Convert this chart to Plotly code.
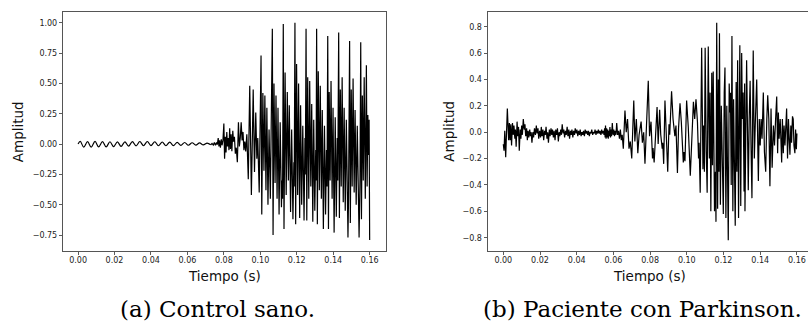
import plotly.graph_objects as go

# ---------------- data: (a) Control sano ----------------
t_a = [0.0000, 0.0012, 0.0031, 0.0052, 0.0072, 0.0093, 0.0113, 0.0134, 0.0154, 0.0175,
       0.0195, 0.0216, 0.0236, 0.0257, 0.0277, 0.0298, 0.0318, 0.0339, 0.0359, 0.0380,
       0.0400, 0.0421, 0.0441, 0.0462, 0.0482, 0.0503, 0.0523, 0.0544, 0.0564, 0.0585,
       0.0605, 0.0626, 0.0646, 0.0667, 0.0687, 0.0708, 0.0728,
       0.0735, 0.0742, 0.0748, 0.0754, 0.0760, 0.0764, 0.0769, 0.0773, 0.0777, 0.0781,
       0.0786, 0.0790, 0.0795, 0.0800, 0.0804, 0.0808, 0.0812, 0.0816, 0.0820, 0.0824,
       0.0828, 0.0832, 0.0836, 0.0840, 0.0844, 0.0849, 0.0853, 0.0858, 0.0863, 0.0868,
       0.0874, 0.0880, 0.0885, 0.0890, 0.0895, 0.0900, 0.0905, 0.0910, 0.0915, 0.0920,
       0.0926,
       0.0934, 0.0942, 0.0951, 0.0961, 0.0968, 0.0975, 0.0981, 0.0986, 0.0994, 0.1004,
       0.1008, 0.1014, 0.1020, 0.1025, 0.1031, 0.1036, 0.1042, 0.1048, 0.1055, 0.1066,
       0.1070, 0.1075, 0.1081, 0.1086, 0.1092, 0.1097, 0.1103, 0.1109, 0.1116, 0.1119, 0.1122, 0.1126,
       0.1130, 0.1136, 0.1142, 0.1148, 0.1154, 0.1159, 0.1166, 0.1172, 0.1179, 0.1184, 0.1186, 0.1190,
       0.1194, 0.1199, 0.1205, 0.1210, 0.1216, 0.1221, 0.1227, 0.1233, 0.1240, 0.1245, 0.1247, 0.1251,
       0.1255, 0.1260, 0.1266, 0.1271, 0.1277, 0.1282, 0.1288, 0.1293, 0.1299, 0.1304, 0.1306, 0.1309,
       0.1313, 0.1318, 0.1324, 0.1329, 0.1335, 0.1340, 0.1346, 0.1352, 0.1358, 0.1363, 0.1366, 0.1370,
       0.1374, 0.1378, 0.1383, 0.1388, 0.1394, 0.1399, 0.1405, 0.1411, 0.1417, 0.1422, 0.1425, 0.1430,
       0.1434, 0.1439, 0.1444, 0.1449, 0.1455, 0.1460, 0.1466, 0.1472, 0.1481, 0.1484, 0.1490,
       0.1494, 0.1499, 0.1504, 0.1509, 0.1515, 0.1520, 0.1526, 0.1532, 0.1542, 0.1547, 0.1551,
       0.1555, 0.1560, 0.1565, 0.1570, 0.1576, 0.1582, 0.1586, 0.1590, 0.1594, 0.1597, 0.1600]
amp_a = [0.000, 0.022, -0.025, 0.020, -0.026, 0.022, -0.024, 0.020, -0.024, 0.019,
         -0.021, 0.018, -0.019, 0.018, -0.017, 0.020, -0.015, 0.021, -0.014, 0.021,
         -0.013, 0.019, -0.014, 0.017, -0.014, 0.016, -0.013, 0.014, -0.011, 0.013,
         -0.010, 0.011, -0.009, 0.009, -0.007, 0.008, -0.006,
         0.006, -0.008, 0.012, -0.010, 0.014, -0.005, 0.050, -0.020, 0.030, -0.030,
         0.040, -0.010, 0.030, 0.170, -0.120, 0.060, -0.070, 0.100, -0.020, 0.050,
         -0.050, 0.130, -0.040, 0.080, -0.060, 0.110, 0.020, 0.060, -0.080, -0.030,
         -0.150, 0.180, -0.020, 0.050, 0.180, 0.030, 0.100, -0.050, 0.020, -0.060,
         0.080,
         -0.290, 0.480, -0.420, 0.450, -0.230, 0.260, -0.120, 0.050, -0.400, 0.730,
         -0.580, 0.420, -0.220, 0.400, -0.380, 0.300, -0.500, 0.120, -0.450, 0.950,
         -0.750, 0.500, -0.320, 0.400, -0.450, 0.300, -0.580, 0.180, -0.520, -0.300, -0.450, 0.990,
         -0.700, 0.590, -0.420, 0.430, -0.300, 0.320, -0.560, 0.120, -0.620, -0.150, -0.350, 1.000,
         -0.660, 0.660, -0.420, 0.500, -0.610, 0.320, -0.500, 0.150, -0.630, 0.050, -0.250, 0.950,
         -0.630, 0.550, -0.450, 0.520, -0.350, 0.330, -0.640, 0.200, -0.550, -0.050, -0.300, 0.950,
         -0.660, 0.600, -0.380, 0.480, -0.450, 0.280, -0.700, 0.150, -0.580, -0.050, -0.350, 0.890,
         -0.700, 0.430, -0.300, 0.520, -0.450, 0.300, -0.730, 0.220, -0.600, 0.050, -0.300, 0.920,
         -0.610, 0.450, -0.350, 0.550, -0.480, 0.300, -0.550, 0.200, -0.770, -0.450, 0.850,
         -0.650, 0.450, -0.350, 0.540, -0.400, 0.280, -0.500, 0.150, -0.770, -0.300, 0.840,
         -0.620, 0.400, -0.300, 0.550, -0.450, 0.650, -0.350, 0.240, -0.090, 0.200, -0.790]
n_smooth_a = 37  # the first points form the slow, smooth low-amplitude wave

# ---------------- data: (b) Paciente con Parkinson ----------------
t_b = [0.0000, 0.0004, 0.0008, 0.0013, 0.0022, 0.0029, 0.0033, 0.0037, 0.0041, 0.0045,
       0.0050, 0.0054, 0.0058, 0.0063, 0.0066, 0.0070, 0.0075, 0.0079, 0.0083, 0.0087,
       0.0092, 0.0096, 0.0100, 0.0104, 0.0109, 0.0114, 0.0118, 0.0122, 0.0127, 0.0131,
       0.0135, 0.0139, 0.0144, 0.0148, 0.0152, 0.0156, 0.0161, 0.0165, 0.0170, 0.0175,
       0.0180, 0.0184, 0.0189, 0.0193, 0.0198, 0.0203, 0.0207, 0.0211, 0.0216, 0.0220,
       0.0225, 0.0229, 0.0233, 0.0238, 0.0242, 0.0246, 0.0251, 0.0255, 0.0260, 0.0264,
       0.0268, 0.0273, 0.0277, 0.0282, 0.0286, 0.0291, 0.0295, 0.0300, 0.0304, 0.0308,
       0.0313, 0.0317, 0.0321, 0.0326, 0.0330, 0.0334, 0.0339, 0.0343, 0.0348, 0.0352,
       0.0357, 0.0361, 0.0366, 0.0370, 0.0374, 0.0379, 0.0383, 0.0388, 0.0392, 0.0397,
       0.0401, 0.0406, 0.0410, 0.0415, 0.0419, 0.0424, 0.0428, 0.0433, 0.0437, 0.0442,
       0.0446, 0.0451, 0.0455, 0.0460, 0.0464, 0.0469, 0.0473, 0.0478, 0.0482, 0.0487,
       0.0491, 0.0496, 0.0500, 0.0505, 0.0509, 0.0514, 0.0518, 0.0523, 0.0527, 0.0532,
       0.0536, 0.0540, 0.0545, 0.0549, 0.0552, 0.0555, 0.0557, 0.0560, 0.0563, 0.0566,
       0.0569, 0.0572, 0.0575, 0.0578, 0.0581, 0.0584, 0.0587, 0.0590, 0.0594, 0.0598,
       0.0602, 0.0606, 0.0610, 0.0614, 0.0618, 0.0623, 0.0628, 0.0633, 0.0638, 0.0643,
       0.0648,
       0.0654, 0.0663, 0.0670, 0.0677, 0.0685, 0.0692, 0.0700, 0.0711, 0.0717, 0.0725,
       0.0733, 0.0740, 0.0751, 0.0758, 0.0765, 0.0772, 0.0790, 0.0797, 0.0805, 0.0813,
       0.0816, 0.0822, 0.0838, 0.0844, 0.0852, 0.0858, 0.0866, 0.0869, 0.0874, 0.0881,
       0.0890, 0.0896, 0.0903, 0.0907, 0.0917, 0.0925, 0.0935, 0.0941, 0.0949, 0.0955,
       0.0963, 0.0970, 0.0981, 0.0985, 0.0990, 0.0999, 0.1008,
       0.1019, 0.1036, 0.1043, 0.1050, 0.1058, 0.1064, 0.1067, 0.1073, 0.1081, 0.1088,
       0.1092, 0.1096, 0.1100, 0.1106, 0.1111, 0.1117, 0.1123, 0.1127, 0.1131, 0.1136,
       0.1140, 0.1144, 0.1151, 0.1156, 0.1159, 0.1163, 0.1168, 0.1172, 0.1175, 0.1178,
       0.1183, 0.1188, 0.1193, 0.1199, 0.1204, 0.1208, 0.1213, 0.1218, 0.1222, 0.1226,
       0.1231, 0.1235, 0.1238, 0.1242, 0.1246, 0.1251, 0.1255, 0.1260, 0.1264, 0.1269,
       0.1273, 0.1277, 0.1282, 0.1289, 0.1294, 0.1299, 0.1303, 0.1307, 0.1312, 0.1315,
       0.1317, 0.1326, 0.1335, 0.1340, 0.1345, 0.1350, 0.1355, 0.1362, 0.1368, 0.1373,
       0.1381, 0.1390, 0.1395, 0.1400, 0.1405, 0.1410, 0.1417, 0.1423, 0.1430, 0.1436,
       0.1441, 0.1447, 0.1453, 0.1459, 0.1465, 0.1472, 0.1478, 0.1484, 0.1490, 0.1495,
       0.1499, 0.1503, 0.1509, 0.1517, 0.1521, 0.1526, 0.1530, 0.1535, 0.1544, 0.1549,
       0.1554, 0.1558, 0.1562, 0.1567, 0.1571, 0.1576, 0.1580, 0.1584, 0.1589, 0.1593,
       0.1597, 0.1600]
amp_b = [-0.09, -0.14, 0.01, -0.19, 0.18, -0.06, 0.07, -0.06, 0.06, -0.10,
         0.07, -0.02, 0.05, -0.05, 0.02, -0.11, 0.08, -0.03, 0.04, -0.14,
         0.02, -0.05, 0.05, -0.02, 0.10, 0.02, 0.06, -0.03, 0.03, -0.06,
         0.01, -0.04, 0.02, -0.03, 0.00, -0.08, 0.00, -0.04, 0.03, -0.02,
         0.05, -0.01, 0.03, -0.05, 0.01, -0.04, 0.04, -0.03, 0.02, -0.06,
         0.01, -0.02, 0.04, -0.05, 0.00, -0.08, 0.02, -0.03, 0.03, -0.02,
         0.02, -0.04, 0.01, -0.06, 0.02, -0.02, 0.03, -0.07, 0.00, -0.03,
         0.02, -0.02, 0.06, -0.01, 0.02, -0.04, 0.01, -0.02, 0.04, -0.03,
         0.02, -0.05, 0.01, -0.02, 0.02, -0.04, 0.01, -0.02, 0.03, -0.01,
         0.02, -0.03, 0.01, -0.02, 0.02, -0.03, 0.00, -0.02, 0.01, -0.03,
         0.02, -0.01, 0.01, -0.02, 0.01, -0.03, 0.00, -0.01, 0.02, -0.02,
         0.00, -0.01, 0.02, -0.02, 0.01, -0.01, 0.02, -0.01, 0.01, -0.02,
         0.02, -0.01, 0.01, -0.02, 0.03, -0.04, 0.05, -0.05, 0.03, -0.04,
         0.02, -0.05, 0.01, -0.03, 0.04, -0.04, 0.02, -0.03, 0.07, -0.02,
         0.02, -0.03, 0.01, -0.02, 0.07, -0.02, 0.01, -0.05, 0.02, -0.06,
         -0.02,
         -0.125, 0.165, 0.00, 0.10, -0.125, -0.07, -0.20, 0.24, -0.07, 0.10,
         -0.16, -0.02, 0.08, -0.08, 0.00, -0.24, 0.39, -0.03, 0.08, -0.20,
         -0.12, -0.23, 0.19, -0.09, 0.17, -0.02, -0.125, -0.08, -0.24, 0.24,
         -0.14, -0.30, 0.06, -0.02, 0.31, 0.10, -0.03, 0.05, -0.31, 0.03,
         0.22, 0.08, -0.23, -0.15, -0.22, 0.24, 0.04,
         -0.33, 0.23, 0.10, 0.25, 0.08, -0.20, -0.08, -0.46, 0.64, -0.28,
         0.05, -0.30, 0.64, -0.15, -0.46, 0.65, -0.20, 0.30, -0.60, 0.45,
         -0.25, 0.46, -0.60, -0.30, -0.68, 0.83, -0.58, 0.40, -0.30, 0.75,
         -0.55, 0.20, -0.10, -0.62, 0.30, 0.49, -0.65, 0.20, -0.30, -0.82,
         0.37, 0.15, 0.30, -0.40, 0.73, -0.60, 0.25, -0.30, -0.71, 0.38,
         -0.30, 0.545, -0.65, 0.66, -0.56, 0.60, 0.10, 0.30, -0.45, 0.37,
         -0.60, 0.545, -0.44, 0.10, 0.39, -0.10, -0.50, 0.62, -0.20, 0.05,
         0.40, -0.37, 0.10, -0.10, 0.10, -0.05, 0.30, -0.15, -0.30, 0.10,
         0.28, 0.10, -0.41, 0.18, -0.27, 0.05, -0.10, 0.10, 0.27, -0.16,
         0.15, -0.05, 0.10, -0.23, 0.10, -0.16, 0.05, -0.10, 0.18, -0.20,
         0.10, -0.05, -0.17, 0.05, -0.08, 0.12, 0.10, -0.10, -0.16, 0.02,
         -0.13, -0.01]

# ---------------- ticks / labels ----------------
x_ticks = [0.00, 0.02, 0.04, 0.06, 0.08, 0.10, 0.12, 0.14, 0.16]
x_ticktext = ["0.00", "0.02", "0.04", "0.06", "0.08", "0.10", "0.12", "0.14", "0.16"]
ya_ticks = [-0.75, -0.50, -0.25, 0.00, 0.25, 0.50, 0.75, 1.00]
ya_ticktext = ["\u22120.75", "\u22120.50", "\u22120.25", "0.00", "0.25", "0.50", "0.75", "1.00"]
yb_ticks = [-0.8, -0.6, -0.4, -0.2, 0.0, 0.2, 0.4, 0.6, 0.8]
yb_ticktext = ["\u22120.8", "\u22120.6", "\u22120.4", "\u22120.2", "0.0", "0.2", "0.4", "0.6", "0.8"]
x_title = "Tiempo (s)"
y_title = "Amplitud"
captions = ["(a) Control sano.", "(b) Paciente con Parkinson."]

W, H = 808, 329
LINE = dict(color="black", width=1.2)

fig = go.Figure()
# smooth low-amplitude wave at the start of (a)
fig.add_trace(go.Scatter(x=t_a[:n_smooth_a], y=amp_a[:n_smooth_a], mode="lines",
                         line=dict(shape="spline", smoothing=1.0, **LINE),
                         xaxis="x", yaxis="y", showlegend=False, hoverinfo="skip"))
fig.add_trace(go.Scatter(x=t_a[n_smooth_a - 1:], y=amp_a[n_smooth_a - 1:], mode="lines", line=LINE,
                         xaxis="x", yaxis="y", showlegend=False, hoverinfo="skip"))
fig.add_trace(go.Scatter(x=t_b, y=amp_b, mode="lines", line=LINE,
                         xaxis="x2", yaxis="y2", showlegend=False, hoverinfo="skip"))

tickfont = dict(family="DejaVu Sans", size=8, color="#222")
common = dict(showgrid=False, zeroline=False, showline=True, linecolor="#555", linewidth=1,
              ticks="outside", ticklen=3.5, tickwidth=0.8, tickcolor="#333", tickfont=tickfont)

ydom = [1 - 250.7 / H, 1 - 11.7 / H]
fig.update_layout(
    width=W, height=H, margin=dict(l=0, r=0, t=0, b=0, autoexpand=False),
    paper_bgcolor="white", plot_bgcolor="white",
    xaxis=dict(domain=[63.3 / W, 385.7 / W], range=[-0.0081, 0.1688], anchor="y",
               tickvals=x_ticks, ticktext=x_ticktext, mirror=True, ticklabelstandoff=-2, **common),
    yaxis=dict(domain=ydom, range=[-0.879, 1.091], anchor="x",
               tickvals=ya_ticks, ticktext=ya_ticktext, mirror=True, **common),
    xaxis2=dict(domain=[488 / W, 1.0], range=[-0.00834, 0.16605], anchor="y2",
                tickvals=x_ticks, ticktext=x_ticktext, mirror=True, ticklabelstandoff=-2, **common),
    yaxis2=dict(domain=ydom, range=[-0.8986, 0.9137], anchor="x2",
                tickvals=yb_ticks, ticktext=yb_ticktext, mirror=False, **common),
)

titlefont = dict(family="DejaVu Sans", size=13.5, color="#111")
ann = []
for cx in (224, 649):
    ann.append(dict(text=x_title, x=cx / W, y=1 - 275.5 / H, xref="paper", yref="paper",
                    xanchor="center", yanchor="middle", showarrow=False, font=titlefont))
for cx in (17.5, 449):
    ann.append(dict(text=y_title, x=cx / W, y=1 - 131.7 / H, xref="paper", yref="paper",
                    xanchor="center", yanchor="middle", showarrow=False, font=titlefont,
                    textangle=-90))
for cx, cap in zip((217, 642), captions):
    ann.append(dict(text=cap, x=cx / W, y=1 - 309 / H, xref="paper", yref="paper",
                    xanchor="center", yanchor="middle", showarrow=False,
                    font=dict(family="DejaVu Serif", size=23, color="black")))
fig.update_layout(annotations=ann)

fig.write_html("out.html", config={"displayModeBar": False, "staticPlot": True},
               post_script="document.body.style.margin='0';document.body.style.padding='0';")
